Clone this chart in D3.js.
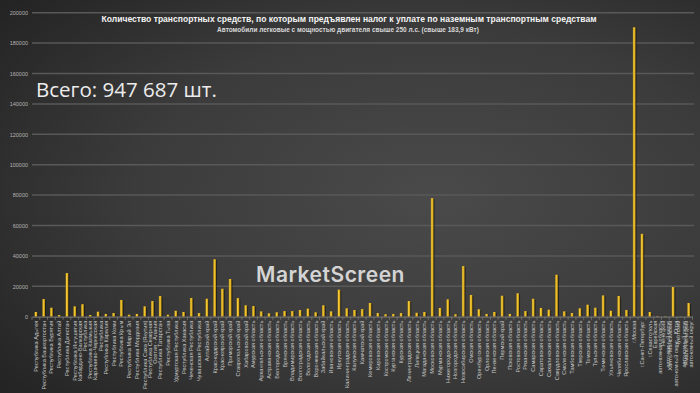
<!DOCTYPE html>
<html lang="ru">
<head>
<meta charset="UTF-8">
<title>Транспортный налог</title>
<script src="https://d3js.org/d3.v7.min.js"></script>
<style>
  html, body { margin: 0; padding: 0; background: #333; }
  svg { display: block; }
</style>
</head>
<body>
<script>
// регионы в порядке отчёта
const regions = [
  "Республика Адыгея", "Республика Башкортостан", "Республика Бурятия", "Республика Алтай",
  "Республика Дагестан", "Республика Ингушетия", "Кабардино-Балкарская Республика",
  "Республика Калмыкия", "Карачаево-Черкесская Республика", "Республика Карелия",
  "Республика Коми", "Республика Крым", "Республика Марий Эл", "Республика Мордовия",
  "Республика Саха (Якутия)", "Республика Северная Осетия - Алания", "Республика Татарстан",
  "Республика Тыва", "Удмуртская Республика", "Республика Хакасия", "Чеченская Республика",
  "Чувашская Республика", "Алтайский край", "Краснодарский край", "Красноярский край",
  "Приморский край", "Ставропольский край", "Хабаровский край", "Амурская область",
  "Архангельская область", "Астраханская область", "Белгородская область", "Брянская область",
  "Владимирская область", "Волгоградская область", "Вологодская область", "Воронежская область",
  "Забайкальский край", "Ивановская область", "Иркутская область", "Калининградская область",
  "Калужская область", "Камчатский край", "Кемеровская область", "Кировская область",
  "Костромская область", "Курганская область", "Курская область", "Ленинградская область",
  "Липецкая область", "Магаданская область", "Московская область", "Мурманская область",
  "Нижегородская область", "Новгородская область", "Новосибирская область", "Омская область",
  "Оренбургская область", "Орловская область", "Пензенская область", "Пермский край",
  "Псковская область", "Ростовская область", "Рязанская область", "Самарская область",
  "Саратовская область", "Сахалинская область", "Свердловская область", "Смоленская область",
  "Тамбовская область", "Тверская область", "Томская область", "Тульская область",
  "Тюменская область", "Ульяновская область", "Челябинская область", "Ярославская область",
  "г.Москва", "г.Санкт-Петербург", "г.Севастополь", "Еврейская автономная область",
  "Ненецкий автономный округ", "Ханты-Мансийский автономный округ - Югра",
  "Чукотский автономный округ", "Ямало-Ненецкий автономный округ"
];

const cars = [
  3100, 11600, 5900, 1100, 28700, 6800, 8200, 1100, 3300, 1800,
  2400, 11000, 1300, 1800, 6800, 10300, 13600, 1300, 3900, 3100,
  12300, 2400, 11800, 37800, 18400, 24800, 12200, 7500, 7000, 3500,
  2200, 2900, 3700, 3700, 4400, 5300, 2900, 7500, 3500, 17800,
  5500, 4400, 5000, 9000, 2400, 1600, 1800, 2400, 10300, 2600,
  3100, 78000, 5700, 11400, 1600, 33300, 14300, 4900, 1800, 3100,
  13800, 1800, 15400, 3700, 11800, 5700, 4600, 27600, 3500, 2400,
  5500, 7900, 5900, 14000, 3900, 13600, 4400, 190400, 54500, 3100,
  400, 300, 19500, 100, 9000
];

const yTicks = [0, 20000, 40000, 60000, 80000, 100000, 120000, 140000, 160000, 180000, 200000];

const title = "Количество транспортных средств, по которым предъявлен налог к уплате по наземным транспортным средствам";
const subtitle = "Автомобили легковые с мощностью двигателя свыше 250 л.с. (свыше 183,9 кВт)";
const totalText = "Всего: 947 687 шт.";
const watermark = "MarketScreen";

const W = 700, H = 393;
const plotL = 32, plotR = 692.5, plotT = 12.7, plotB = 316.7;

const svg = d3.select("body").append("svg")
  .attr("width", W)
  .attr("height", H);

const defs = svg.append("defs");

// фон
const bg = defs.append("radialGradient")
  .attr("id", "bg")
  .attr("cx", "62%").attr("cy", "50%").attr("r", "78%");
bg.append("stop").attr("offset", "0%").attr("stop-color", "#4a4a4a");
bg.append("stop").attr("offset", "55%").attr("stop-color", "#3b3b3b");
bg.append("stop").attr("offset", "100%").attr("stop-color", "#242424");

// столбики
const barGrad = defs.append("linearGradient")
  .attr("id", "barGrad")
  .attr("x1", "0").attr("x2", "1").attr("y1", "0").attr("y2", "0");
barGrad.append("stop").attr("offset", "0%").attr("stop-color", "#9c7a10");
barGrad.append("stop").attr("offset", "35%").attr("stop-color", "#f3ca3e");
barGrad.append("stop").attr("offset", "70%").attr("stop-color", "#dfae1c");
barGrad.append("stop").attr("offset", "100%").attr("stop-color", "#95730a");

svg.append("rect")
  .attr("width", W).attr("height", H)
  .attr("fill", "url(#bg)");

const x = d3.scaleBand()
  .domain(regions)
  .range([plotL, plotR])
  .paddingInner(0)
  .paddingOuter(0);

const y = d3.scaleLinear()
  .domain([0, 200000])
  .range([plotB, plotT]);

// сетка
svg.append("g")
  .selectAll("line")
  .data(yTicks.slice(1))
  .join("line")
  .attr("x1", plotL)
  .attr("x2", 694)
  .attr("y1", d => y(d))
  .attr("y2", d => y(d))
  .attr("stroke", "#595959")
  .attr("stroke-width", 1.5);

// ось Y
const yAxis = svg.append("g")
  .attr("transform", `translate(${plotL - 3},0)`)
  .call(d3.axisLeft(y).tickValues(yTicks).tickSize(0).tickPadding(1).tickFormat(d3.format("d")));
yAxis.select(".domain").remove();
yAxis.selectAll("text")
  .attr("fill", "#b4b4b4")
  .style("font-family", "'Liberation Sans Narrow', 'Liberation Sans', sans-serif")
  .style("font-size", "5.5px");

// тени столбиков
const bw = 2.8;
svg.append("g")
  .selectAll("rect")
  .data(cars)
  .join("rect")
  .attr("x", (d, i) => x(regions[i]) + x.bandwidth() / 2 - bw / 2 + 1)
  .attr("y", d => y(d) + 0.8)
  .attr("width", bw)
  .attr("height", d => Math.max(0, plotB - y(d) - 0.8))
  .attr("fill", "rgba(0,0,0,0.45)");

svg.append("g")
  .selectAll("rect")
  .data(cars)
  .join("rect")
  .attr("x", (d, i) => x(regions[i]) + x.bandwidth() / 2 - bw / 2)
  .attr("y", d => y(d))
  .attr("width", bw)
  .attr("height", d => plotB - y(d))
  .attr("fill", "url(#barGrad)");

// ось X
const xAxis = svg.append("g")
  .attr("transform", `translate(0,${plotB})`)
  .call(d3.axisBottom(x).tickSize(0).tickFormat(""));
xAxis.select(".domain").attr("stroke", "#6e6e6e").attr("stroke-width", 1.2);

svg.append("g")
  .selectAll("line")
  .data(regions.concat(["__end"]))
  .join("line")
  .attr("x1", (d, i) => plotL + i * x.step())
  .attr("x2", (d, i) => plotL + i * x.step())
  .attr("y1", plotB)
  .attr("y2", plotB + 3)
  .attr("stroke", "#6e6e6e")
  .attr("stroke-width", 1);

// подписи регионов, длинные переносятся на две строки
function splitLabel(s) {
  if (s.length <= 24) return [s];
  const words = s.split(" ");
  let best = [s], bestDiff = Infinity;
  for (let k = 1; k < words.length; k++) {
    const a = words.slice(0, k).join(" "), b = words.slice(k).join(" ");
    const diff = Math.max(a.length, b.length);
    if (diff < bestDiff) { bestDiff = diff; best = [a, b]; }
  }
  return best;
}

const labels = svg.append("g")
  .selectAll("text")
  .data(regions)
  .join("text")
  .attr("transform", d => `translate(${x(d) + x.bandwidth() / 2},${plotB + 4}) rotate(-90)`)
  .attr("text-anchor", "end")
  .attr("fill", "#c8c8c8")
  .style("font-family", "'Liberation Sans Narrow', 'Liberation Sans', sans-serif")
  .style("font-size", "5.6px");

labels.each(function(d) {
  const lines = splitLabel(d);
  const t = d3.select(this);
  const off = lines.length === 1 ? 2 : -0.8;
  lines.forEach((ln, j) => {
    t.append("tspan")
      .attr("x", 0)
      .attr("dy", j === 0 ? off : 5.6)
      .text(ln);
  });
});

// подгонка шрифта под нужную ширину
function fitText(sel, width, base) {
  sel.style("font-size", base + "px");
  const w = sel.node().getComputedTextLength();
  if (w > 0) sel.style("font-size", (base * width / w).toFixed(2) + "px");
  return sel;
}

// заголовки
fitText(svg.append("text")
  .attr("x", 349)
  .attr("y", 22)
  .attr("text-anchor", "middle")
  .attr("fill", "#f2f2f2")
  .style("font-family", "'Liberation Sans Narrow', 'Liberation Sans', sans-serif")
  .style("font-weight", "bold")
  .text(title), 496, 10.5);

fitText(svg.append("text")
  .attr("x", 348)
  .attr("y", 32)
  .attr("text-anchor", "middle")
  .attr("fill", "#d8d8d8")
  .style("font-family", "'Liberation Sans Narrow', 'Liberation Sans', sans-serif")
  .style("font-weight", "bold")
  .text(subtitle), 262, 7);

fitText(svg.append("text")
  .attr("x", 36)
  .attr("y", 97)
  .attr("fill", "#ececec")
  .style("font-family", "'Open Sans', 'DejaVu Sans', sans-serif")
  .text(totalText), 181, 21);

fitText(svg.append("text")
  .attr("x", 256)
  .attr("y", 282)
  .attr("fill", "#d4d4d4")
  .attr("letter-spacing", "0.5")
  .style("font-family", "Inter, 'DejaVu Sans', sans-serif")
  .style("font-weight", "600")
  .text(watermark), 150, 18);
</script>
</body>
</html>
